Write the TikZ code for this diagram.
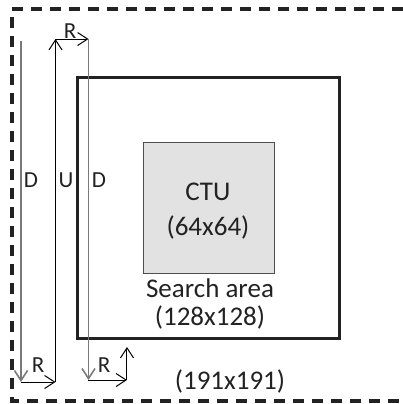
\documentclass[tikz,border=0pt]{standalone}
\usepackage{fontspec}
\setmainfont{Carlito}
\usepackage{xcolor}
\usetikzlibrary{arrows.meta, positioning}
\definecolor{ink}{HTML}{222222}
\definecolor{ctugray}{HTML}{E2E2E2}
\definecolor{lgray}{HTML}{7A7A7A}

\begin{document}
\begin{tikzpicture}[
    x=0.5pt, y=-0.5pt,
    txt/.style={font=\fontsize{13.5}{17.5}\selectfont, text=ink, inner sep=0pt, align=center},
    lbl/.style={font=\fontsize{11.5}{13}\selectfont, text=ink, inner sep=0pt},
    frame/.style={draw=ink, line width=1.6pt, dash pattern=on 5.5pt off 4pt},
    sabox/.style={rectangle, draw=ink, line width=1.5pt, minimum width=131pt, minimum height=130.5pt, inner sep=0pt},
    ctubox/.style={rectangle, draw=ink!80, line width=0.4pt, fill=ctugray, minimum width=65.5pt, minimum height=65.5pt, inner sep=0pt},
    arrow/.style={->, >={Straight Barb[length=5pt,width=6.5pt]}, line width=0.5pt},
    gline/.style={draw=lgray, line width=0.8pt}
]
\useasboundingbox (0,0) rectangle (403,404);
\draw [frame] (403,9) -- (12,9) -- (12,401) -- (403,401);

\node (sa) [sabox] at (209,207.5) {};
\node (ctu) [ctubox] at (208.5,207.5) {};
\node (ctutxt) [txt] at (208,211) {CTU\\(64x64)};
\node (satxt) [txt, font=\fontsize{13.5}{14}\selectfont] at (210,304) {Search area\\(128x128)};
\node (alltxt) [txt] at (230,381) {(191x191)};

\coordinate (d1t) at (21,41);
\coordinate (d1b) at (21,382);
\coordinate (ut) at (55.5,39);
\coordinate (ub) at (55.5,382);
\coordinate (d2t) at (88.5,39);
\coordinate (d2b) at (88.5,380);
\coordinate (rb) at (127,380);
\coordinate (rt) at (127,347);

\draw [arrow, gline] (d1t) -- (d1b);
\draw [arrow] (d1b) -- (ub);
\draw [arrow] (ub) -- (ut);
\draw [arrow] (ut) -- (d2t);
\draw [arrow, gline] (d2t) -- (d2b);
\draw [arrow] (d2b) -- (rb);
\draw [arrow] (rb) -- (rt);

\node (dlbl1) [lbl] at (31,180) {D};
\node (ulbl) [lbl] at (66,180) {U};
\node (dlbl2) [lbl] at (99,180) {D};
\node (rlbl1) [lbl] at (70,31) {R};
\node (rlbl2) [lbl] at (38,365) {R};
\node (rlbl3) [lbl] at (104,365) {R};
\end{tikzpicture}
\end{document}
